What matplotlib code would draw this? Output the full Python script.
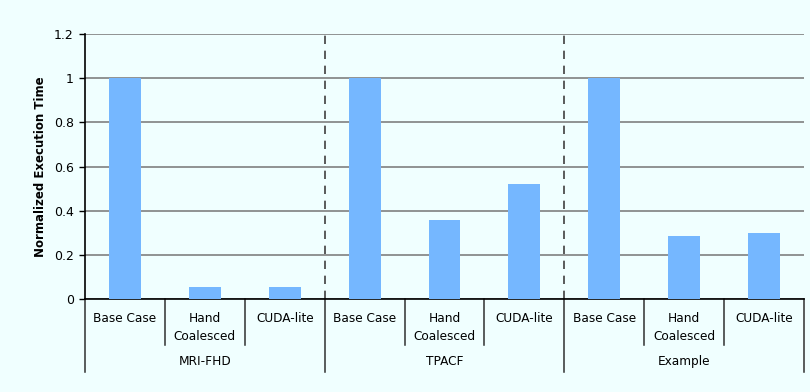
"""
Normalized execution time, grouped by benchmark
"""

import matplotlib
matplotlib.use('Agg')
import matplotlib.pyplot as plt

# Data
groups = ['MRI-FHD', 'TPACF', 'Example']
categories = ['Base Case', 'Hand\nCoalesced', 'CUDA-lite']
mri_fhd = [1.0, 0.055, 0.055]
tpacf = [1.0, 0.36, 0.52]
example = [1.0, 0.285, 0.30]
y_ticks = [0, 0.2, 0.4, 0.6, 0.8, 1, 1.2]

bg = '#F0FFFF'
bar_color = '#75B7FF'

fig = plt.figure(figsize=(8.1, 3.92), dpi=100, facecolor=bg)
W, H = 810, 392
ax = fig.add_axes([85 / W, 1 - 299 / H, (804 - 85) / W, (299 - 34) / H])
ax.set_facecolor(bg)

values = mri_fhd + tpacf + example
xs = list(range(len(values)))
ax.bar(xs, values, width=0.4, color=bar_color, zorder=3)

ax.set_xlim(-0.5, len(values) - 0.5)
ax.set_ylim(0, 1.2)
ax.set_yticks(y_ticks)
ax.set_yticklabels(['0', '0.2', '0.4', '0.6', '0.8', '1', '1.2'], fontsize=9)
ax.yaxis.grid(True, color='#808080', linewidth=1.2, zorder=0)
ax.tick_params(axis='y', length=4, width=1, pad=4)
ax.set_xticks([])

for side in ['top', 'right']:
    ax.spines[side].set_visible(False)
ax.spines['left'].set_linewidth(1.2)
ax.spines['bottom'].set_linewidth(1.2)

ax.set_ylabel('Normalized Execution Time', fontsize=8.5, fontweight='bold', labelpad=5)

# dashed separators between groups
for gx in [2.5, 5.5]:
    ax.axvline(gx, color='#404040', linestyle=(0, (5, 4)), linewidth=1.2, zorder=2)

# two-level category axis under the plot
trans = ax.get_xaxis_transform()
ph = 299 - 34  # axes height in pixels


def ay(px):
    """pixel row in figure -> axes fraction"""
    return (299 - px) / ph


for i in range(len(values) + 1):
    bottom = 372 if i % 3 == 0 else 345
    ax.plot([i - 0.5, i - 0.5], [0, ay(bottom)], color='#303030', linewidth=1.1,
            transform=trans, clip_on=False)

for i, v in enumerate(values):
    ax.text(i, ay(312), categories[i % 3], ha='center', va='top', fontsize=8.7,
            linespacing=1.45, transform=trans)

for g, name in enumerate(groups):
    ax.text(g * 3 + 1, ay(355), name, ha='center', va='top', fontsize=8.7,
            transform=trans)

fig.savefig('out.png', dpi=100, facecolor=bg)
